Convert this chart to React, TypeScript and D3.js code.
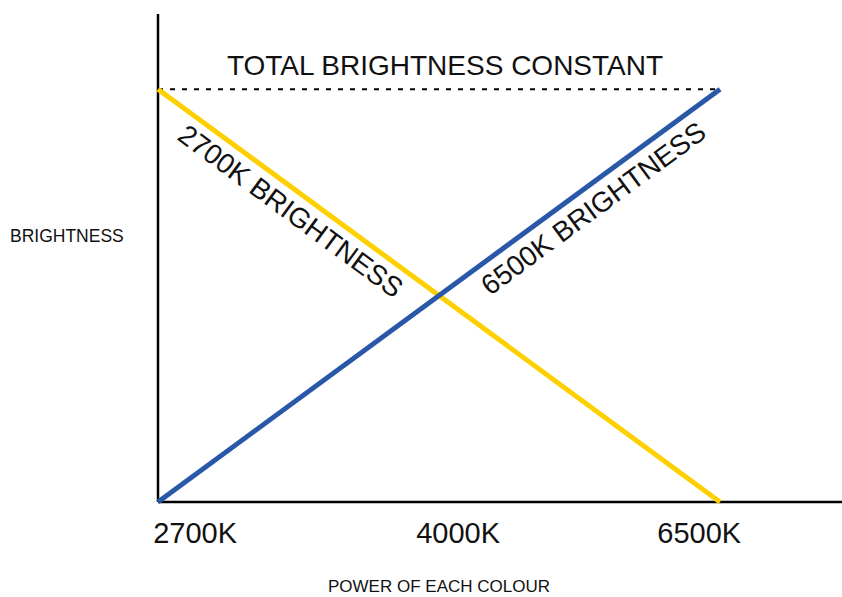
import * as d3 from "d3";

// fraction of power sent to the 6500K channel
const power = [0, 1];
const warmBrightness = [100, 0];
const coolBrightness = [0, 100];
const totalBrightness = [100, 100];

const tickLabels = ["2700K", "4000K", "6500K"];
const tickAt = [0.066, 0.534, 0.963];

const W = 842, H = 597;

export default function App() {
  const x = d3.scaleLinear().domain([0, 1.217]).range([158, 842]);
  const y = d3.scaleLinear().domain([0, 118.2]).range([502, 14]);

  const line = (vals: number[]) =>
    d3.line<number>()
      .x((_, i) => x(power[i]))
      .y((d) => y(d))(vals) || "";

  const slope = (y(warmBrightness[1]) - y(warmBrightness[0])) / (x(power[1]) - x(power[0]));
  const angle = (Math.atan(slope) * 180) / Math.PI;

  const font = "Liberation Sans, Arial, sans-serif";

  return (
    <svg width={W} height={H} style={{ position: "absolute", left: 0, top: 0 }} fontFamily={font}>
      {/* axes */}
      <line x1={x(0)} x2={x(0)} y1={y(118.2)} y2={y(0)} stroke="#000" strokeWidth={2.5} />
      <line x1={x(0)} x2={x(1.217)} y1={y(0)} y2={y(0)} stroke="#000" strokeWidth={2.5} />

      <path d={line(totalBrightness)} stroke="#000" strokeWidth={2} strokeDasharray="5,7" fill="none" />
      <path d={line(warmBrightness)} stroke="#FFD000" strokeWidth={5} fill="none" />
      <path d={line(coolBrightness)} stroke="#2A58A8" strokeWidth={5} fill="none" />

      <text x={445} y={75} fontSize={28} textAnchor="middle" fill="#111">TOTAL BRIGHTNESS CONSTANT</text>

      <text
        transform={`translate(285,219) rotate(${angle})`}
        fontSize={28} textAnchor="middle" fill="#111"
      >2700K BRIGHTNESS</text>
      <text
        transform={`translate(599,216) rotate(${-angle})`}
        fontSize={28} textAnchor="middle" fill="#111"
      >6500K BRIGHTNESS</text>

      {tickLabels.map((t, i) => (
        <text key={t} x={x(tickAt[i])} y={543} fontSize={29} textAnchor="middle" fill="#111">{t}</text>
      ))}

      <text x={439} y={592} fontSize={17} textAnchor="middle" fill="#111">POWER OF EACH COLOUR</text>
      <text x={10} y={242} fontSize={17.5} fill="#111">BRIGHTNESS</text>
    </svg>
  );
}
